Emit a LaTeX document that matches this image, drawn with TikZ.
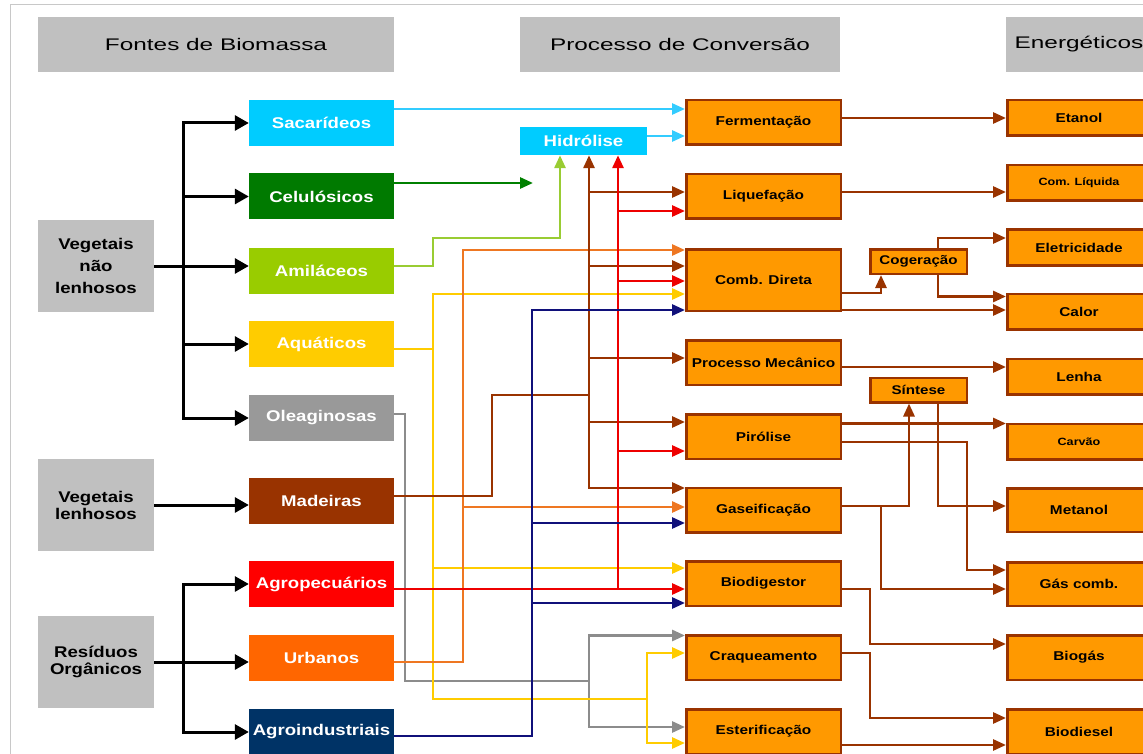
\documentclass[tikz,border=0pt]{standalone}
\usepackage{fontspec}
\usepackage{tikz}
\usetikzlibrary{arrows.meta,positioning,calc}
\newfontfamily\labelfont{Liberation Sans}[FakeStretch=1.2]
\newfontfamily\headfont{Liberation Sans}[FakeStretch=1.45]
\definecolor{boxgray}{HTML}{C0C0C0}
\definecolor{framegray}{HTML}{C8C8C8}
\definecolor{procorange}{HTML}{FF9900}
\definecolor{brn}{HTML}{993300}
\definecolor{sacbox}{HTML}{00CCFF}
\definecolor{celbox}{HTML}{007A00}
\definecolor{amibox}{HTML}{99CC00}
\definecolor{aqubox}{HTML}{FFCC00}
\definecolor{olebox}{HTML}{999999}
\definecolor{madbox}{HTML}{993300}
\definecolor{agrbox}{HTML}{FF0000}
\definecolor{urbbox}{HTML}{FF6600}
\definecolor{agibox}{HTML}{003366}
\definecolor{sacline}{HTML}{33CCFF}
\definecolor{celline}{HTML}{008000}
\definecolor{amiline}{HTML}{99CC33}
\definecolor{aquline}{HTML}{FFCC00}
\definecolor{oleline}{HTML}{8C8C8C}
\definecolor{madline}{HTML}{993300}
\definecolor{agrline}{HTML}{EE0000}
\definecolor{urbline}{HTML}{EE7722}
\definecolor{agiline}{HTML}{10107A}

\begin{document}
\begin{tikzpicture}[x=1pt,y=-1pt,
	headbox/.style={fill=boxgray,inner sep=0pt,minimum height=55pt,minimum width=#1,
		font=\headfont\fontsize{16.8pt}{20pt}\selectfont},
	groupbox/.style={fill=boxgray,inner sep=0pt,minimum width=116pt,minimum height=92pt,align=center,
		font=\labelfont\bfseries\fontsize{15.5pt}{17pt}\selectfont},
	srcbox/.style={fill=#1,text=white,inner sep=0pt,minimum width=145pt,minimum height=46pt,
		font=\labelfont\bfseries\fontsize{15.5pt}{18pt}\selectfont},
	procbox/.style={fill=procorange,draw=brn,line width=2.5pt,inner sep=0pt,minimum width=154.5pt,minimum height=44.5pt,
		font=\labelfont\bfseries\fontsize{12.8pt}{15pt}\selectfont},
	prodbox/.style={procbox,minimum width=143.5pt,minimum height=35.5pt},
	auxbox/.style={procbox,minimum width=96.5pt,minimum height=24.5pt,
		font=\labelfont\bfseries\fontsize{12.6pt}{15pt}\selectfont},
	smalltext/.style={font=\labelfont\bfseries\fontsize{10.5pt}{12pt}\selectfont},
	trunk/.style={line width=3pt,-{Triangle[length=14pt,width=15pt]}},
	feed/.style={line width=2.8pt,draw=#1,-{Triangle[length=13pt,width=11pt]}},
	outlink/.style={line width=2.8pt,draw=brn,-{Triangle[length=13pt,width=11pt]}}]

	\useasboundingbox (0,0) rectangle (1143,754);
	\clip (0,0) rectangle (1143,754);
	\draw[framegray,line width=1pt] (10,754) -- (10,5) -- (1143,5);

	% headers
	\node[headbox=356pt] (hfon) at (216,44.5) {Fontes de Biomassa};
	\node[headbox=320pt] (hpro) at (680,44.5) {Processo de Conversão};
	\node[headbox=146pt] (hene) at (1079,44.5) {Energéticos};

	% groups
	\node[groupbox,font=\labelfont\bfseries\fontsize{15.5pt}{22pt}\selectfont] (vnl) at (96,266) {Vegetais\\não\\lenhosos};
	\node[groupbox] (vl) at (96,505) {Vegetais\\lenhosos};
	\node[groupbox] (ro) at (96,662) {Resíduos\\Orgânicos};

	% sources
	\node[srcbox=sacbox] (sac) at (321.5,123) {Sacarídeos};
	\node[srcbox=celbox] (cel) at (321.5,196.5) {Celulósicos};
	\node[srcbox=amibox] (ami) at (321.5,270.5) {Amiláceos};
	\node[srcbox=aqubox] (aqu) at (321.5,344) {Aquáticos};
	\node[srcbox=olebox] (ole) at (321.5,418) {Oleaginosas};
	\node[srcbox=madbox] (mad) at (321.5,500.5) {Madeiras};
	\node[srcbox=agrbox] (agr) at (321.5,584) {Agropecuários};
	\node[srcbox=urbbox] (urb) at (321.5,657.5) {Urbanos};
	\node[srcbox=agibox] (agi) at (321.5,732) {Agroindustriais};
	\node[srcbox=sacbox,minimum width=127pt,minimum height=28pt] (hid) at (583.5,141) {Hidrólise};

	% processes
	\node[procbox] (fer) at (763.5,122.5) {Fermentação};
	\node[procbox] (liq) at (763.5,196.5) {Liquefação};
	\node[procbox,minimum height=61.5pt] (cdi) at (763.5,280) {Comb. Direta};
	\node[procbox] (pme) at (763.5,362.5) {Processo Mecânico};
	\node[procbox] (pir) at (763.5,436.5) {Pirólise};
	\node[procbox] (gas) at (763.5,510) {Gaseificação};
	\node[procbox] (bdg) at (763.5,583.5) {Biodigestor};
	\node[procbox] (crq) at (763.5,657.5) {Craqueamento};
	\node[procbox] (est) at (763.5,731.5) {Esterificação};
	\node[auxbox] (cog) at (918.5,261.5) {Cogeração};
	\node[auxbox] (sin) at (918.5,390) {Síntese};

	% products
	\node[prodbox] (eta) at (1079,118) {Etanol};
	\node[prodbox,smalltext] (cli) at (1079,183) {Com. Líquida};
	\node[prodbox] (ele) at (1079,247.5) {Eletricidade};
	\node[prodbox] (cal) at (1079,311.5) {Calor};
	\node[prodbox] (len) at (1079,376.5) {Lenha};
	\node[prodbox,smalltext] (car) at (1079,441.5) {Carvão};
	\node[prodbox,minimum height=43.5pt] (met) at (1079,510) {Metanol};
	\node[prodbox,minimum height=43.5pt] (gco) at (1079,584) {Gás comb.};
	\node[prodbox,minimum height=44.5pt] (bgs) at (1079,657.5) {Biogás};
	\node[prodbox,minimum height=44.5pt] (bdi) at (1079,731.5) {Biodiesel};

	% black trees
	\coordinate (tv) at (183,0);
	\draw[trunk] (vnl.east) -- (vnl.east -| ami.west);
	\draw[line width=3pt,line cap=rect] (tv |- sac.west) -- (tv |- ole.west);
	\foreach \s in {sac,cel,aqu,ole}
		\draw[trunk] (tv |- \s.west) -- (\s.west);
	\draw[trunk] (vl.east) -- (vl.east -| mad.west);
	\draw[trunk] (ro.east) -- (ro.east -| urb.west);
	\draw[line width=3pt,line cap=rect] (tv |- agr.west) -- (tv |- agi.west);
	\foreach \s in {agr,agi}
		\draw[trunk] (tv |- \s.west) -- (\s.west);

	% feeds
	\draw[feed=sacline] ([yshift=14pt]sac.east) coordinate (a) -- (a -| fer.west);
	\draw[feed=sacline] ([yshift=5pt]hid.east) coordinate (a) -- (a -| fer.west);
	\coordinate (celend) at (533,183);
	\draw[feed=celline] (cel.east |- celend) -- (celend);
	\draw[feed=amiline] ([yshift=4.5pt]ami.east) -- (433,266) |- (560,238) -- ([xshift=-23.5pt]hid.south);

	\coordinate (oj) at (405,414);
	\draw[feed=oleline] ([yshift=4pt]ole.east) -- (oj) |- (589,681) |- ([yshift=22pt]crq.west);
	\draw[feed=oleline] (589,681) |- ([yshift=4.5pt]est.west);

	\coordinate (yj) at (433,349);
	\draw[feed=aquline] ([yshift=-5pt]aqu.east) -- (yj) |- ([yshift=-14pt]cdi.west);
	\draw[feed=aquline] (yj) |- ([yshift=15.5pt]bdg.west);
	\draw[feed=aquline] (yj) |- (647,699) |- ([yshift=4.5pt]crq.west);
	\draw[feed=aquline] (647,699) |- ([yshift=-11.5pt]est.west);

	\coordinate (uj) at (463,662);
	\draw[feed=urbline] ([yshift=-4.5pt]urb.east) -- (uj) |- ([yshift=30pt]cdi.west);
	\draw[feed=urbline] (uj) |- ([yshift=3pt]gas.west);

	\coordinate (mj) at (589,395);
	\draw[feed=madline] ([yshift=4.5pt]mad.east) -- (492,496) |- (mj) -- ([xshift=5.5pt]hid.south);
	\foreach \p/\s in {liq/4.5,cdi/14,pme/4.5,pir/14.5,gas/22}
		\draw[feed=madline] (mj) |- ([yshift=\s pt]\p.west);

	\coordinate (rj) at (618,589);
	\draw[feed=agrline] ([yshift=-5pt]agr.east) coordinate (a) -- (a -| bdg.west);
	\draw[feed=agrline] (rj) -- ([xshift=34.5pt]hid.south);
	\foreach \p/\s in {liq/-14.5,cdi/-1,pir/-14.5}
		\draw[feed=agrline] (rj) |- ([yshift=\s pt]\p.west);

	\coordinate (nj) at (532,736);
	\draw[feed=agiline] ([yshift=-4pt]agi.east) -- (nj) |- ([yshift=-30pt]cdi.west);
	\draw[feed=agiline] (nj) |- ([yshift=-13pt]gas.west);
	\draw[feed=agiline] (nj) |- ([yshift=-19.5pt]bdg.west);

	% outputs
	\draw[outlink] ([yshift=4.5pt]fer.east) coordinate (a) -- (a -| eta.west);
	\draw[outlink] ([yshift=4.5pt]liq.east) coordinate (a) -- (a -| cli.west);
	\draw[outlink] ([yshift=-13pt]cdi.east) -| ([xshift=-37.5pt]cog.south);
	\draw[outlink] ([yshift=-30pt]cdi.east) coordinate (a) -- (a -| cal.west);
	\draw[outlink] ([xshift=19.5pt]cog.north) |- ([yshift=9.5pt]ele.west);
	\draw[outlink] ([xshift=19.5pt]cog.south) |- ([yshift=15pt]cal.west);
	\draw[outlink] ([yshift=-4.5pt]pme.east) coordinate (a) -- (a -| len.west);
	\draw[outlink] ([yshift=13pt]pir.east) coordinate (a) -- (a -| car.west);
	\draw[outlink] ([yshift=-5.5pt]pir.east) -- (967,442) |- ([yshift=14pt]gco.west);
	\draw[outlink] ([xshift=19.5pt]sin.south) |- ([yshift=4pt]met.west);
	\draw[outlink] ([yshift=4pt]gas.east) -| ([xshift=-9.5pt]sin.south);
	\draw[outlink] (881,506) |- ([yshift=-5pt]gco.west);
	\draw[outlink] ([yshift=-5.5pt]bdg.east) -- (870,589) |- ([yshift=13.5pt]bgs.west);
	\draw[outlink] ([yshift=4.5pt]crq.east) -- (870,653) |- ([yshift=13.5pt]bdi.west);
	\draw[outlink] ([yshift=-13.5pt]est.east) coordinate (a) -- (a -| bdi.west);
\end{tikzpicture}
\end{document}
